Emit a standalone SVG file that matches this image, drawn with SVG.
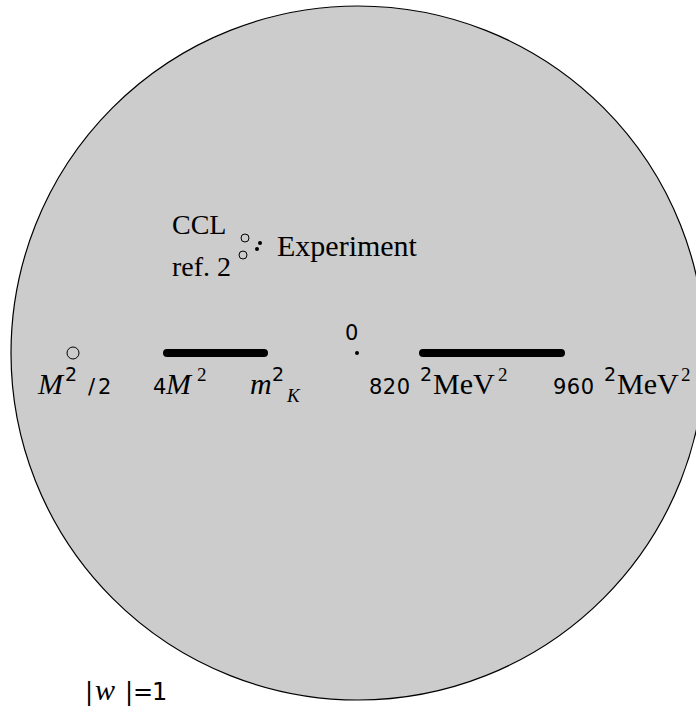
<svg xmlns="http://www.w3.org/2000/svg" width="696" height="706" viewBox="0 0 696 706">
<style>
.s{font-family:"DejaVu Sans","Liberation Sans",sans-serif;font-size:21px;fill:#000}
.r{font-family:"Liberation Serif","Times New Roman",serif;font-size:30px;fill:#000}
.i{font-family:"Liberation Serif","Times New Roman",serif;font-style:italic;font-size:30px;fill:#000}
.sup{font-size:19px}
.bar{stroke:#000;stroke-width:8;stroke-linecap:round;fill:none}
.oc{fill:none;stroke:#000;stroke-width:1}
</style>
<rect width="696" height="706" fill="#fff"/>
<g id="disk"><circle cx="358" cy="353" r="347" fill="#cccccc" stroke="#000" stroke-width="1.2"/></g>
<g id="cuts">
<line class="bar" x1="167" y1="353" x2="264" y2="353"/>
<line class="bar" x1="423" y1="353" x2="561" y2="353"/>
</g>
<g id="points">
<circle class="oc" cx="73" cy="353" r="6"/>
<circle cx="357" cy="353" r="2" fill="#000"/>
<circle class="oc" cx="245" cy="238" r="4"/>
<circle class="oc" cx="243" cy="255" r="4"/>
<circle cx="260" cy="243" r="2" fill="#000"/>
<circle cx="257" cy="249" r="2" fill="#000"/>
</g>
<g id="labels">
<text class="r" x="172" y="234" style="font-size:28px">CCL</text>
<text class="r" x="172" y="276" style="font-size:28px">ref. 2</text>
<text class="r" x="277" y="256">Experiment</text>
<text class="s" x="345" y="340">0</text>
<text y="394"><tspan class="i" x="38">M</tspan><tspan class="s sup" x="65" y="381">2</tspan><tspan class="s" x="88" y="394">/</tspan><tspan class="s" x="98">2</tspan></text>
<text y="394"><tspan class="s" x="153">4</tspan><tspan class="i" x="166">M</tspan><tspan class="r sup" x="197" y="381">2</tspan></text>
<text y="394"><tspan class="i" x="250">m</tspan><tspan class="s sup" x="272" y="381">2</tspan><tspan class="i sup" x="287" y="402">K</tspan></text>
<text y="394"><tspan class="s" x="369" style="letter-spacing:0.5px">820</tspan><tspan class="s sup" x="420" y="381">2</tspan><tspan class="r" x="433" y="394">MeV</tspan><tspan class="r sup" x="498" y="381">2</tspan></text>
<text y="394"><tspan class="s" x="553" style="letter-spacing:0.5px">960</tspan><tspan class="s sup" x="604" y="381">2</tspan><tspan class="r" x="617" y="394">MeV</tspan><tspan class="r sup" x="681" y="381">2</tspan></text>
<text y="700"><tspan class="s" x="85" style="font-size:24px">|</tspan><tspan class="i" x="95">w</tspan><tspan class="s" x="125" style="font-size:24px">|</tspan><tspan class="s" x="133" style="font-size:24px">=</tspan><tspan class="s" x="152" style="font-size:24px">1</tspan></text>
</g>
</svg>
